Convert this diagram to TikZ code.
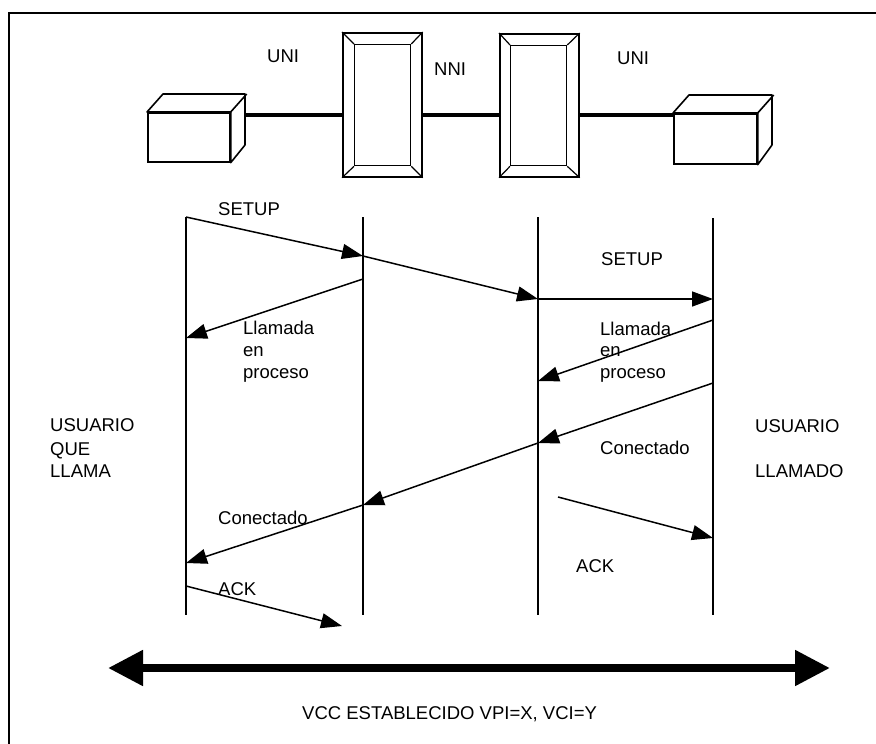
\documentclass[tikz,border=0pt]{standalone}
\usepackage{fontspec}
\setmainfont{Liberation Sans}
\usetikzlibrary{arrows.meta}
\begin{document}
\begin{tikzpicture}[x=1pt,y=-1pt,
  lbl/.style={anchor=base west, inner sep=0pt, font=\fontsize{18.5}{22}\selectfont},
  face/.style={draw, line width=1.6pt, fill=white, line join=round},
  link/.style={line width=4pt},
  life/.style={line width=1.5pt},
  msg/.style={line width=1.5pt, -{Triangle[length=21pt,width=15pt]}},
  box/.style={draw, line width=1.7pt, inner sep=0pt, anchor=north west, fill=white},
  bevel/.style={line width=1.2pt},
]
\useasboundingbox (0,0) rectangle (876,744);
\draw[line width=2pt] (9,744) -- (9,13) -- (876,13);

% network elements
\node[box, minimum width=82pt, minimum height=49pt] (c1) at (147,112) {};
\draw[face] (c1.north west) -- ++(16,-18) -- ++(82,0) -- ++(0,51) -- (c1.south east) -- (c1.north east) -- cycle;
\draw[face] (c1.north east) -- ++(16,-18);
\node[box, minimum width=83pt, minimum height=50pt] (c2) at (673,113) {};
\draw[face] (c2.north west) -- ++(16,-18) -- ++(83,0) -- ++(0,50) -- (c2.south east) -- (c2.north east) -- cycle;
\draw[face] (c2.north east) -- ++(16,-18);

\node[box, minimum width=79pt, minimum height=144pt] (s1) at (342,32) {};
\node[box, line width=1.3pt, minimum width=56pt, minimum height=121pt] (s1i) at (354,44) {};
\draw[bevel] (s1.north west) -- (s1i.north west) (s1.north east) -- (s1i.north east)
  (s1.south west) -- (s1i.south west) (s1.south east) -- (s1i.south east);
\node[box, minimum width=79pt, minimum height=143pt] (s2) at (499,33) {};
\node[box, line width=1.3pt, minimum width=56pt, minimum height=120pt] (s2i) at (510,45) {};
\draw[bevel] (s2.north west) -- (s2i.north west) (s2.north east) -- (s2i.north east)
  (s2.south west) -- (s2i.south west) (s2.south east) -- (s2i.south east);

\coordinate (c1r) at (245,115);
\draw[link] (c1r) -- (s1.west |- c1r);
\draw[link] (s1.east |- c1r) -- (s2.west |- c1r);
\draw[link] (s2.east |- c1r) -- (c2.west |- c1r);

\node[lbl] (uni1) at (267,62) {UNI};
\node[lbl] (nni) at (434,75) {NNI};
\node[lbl] (uni2) at (617,64) {UNI};

% lifelines
\coordinate (L1t) at (186,217); \coordinate (L1b) at (186,615);
\coordinate (L2t) at (363,217); \coordinate (L2b) at (363,615);
\coordinate (L3t) at (538,217); \coordinate (L3b) at (538,615);
\coordinate (L4t) at (713,218); \coordinate (L4b) at (713,615);
\draw[life] (L1t) -- (L1b);
\draw[life] (L2t) -- (L2b);
\draw[life] (L3t) -- (L3b);
\draw[life] (L4t) -- (L4b);

% messages
\coordinate (a1) at (186,217); \coordinate (a2) at (363,256);
\coordinate (a3) at (538,299); \coordinate (a4) at (713,299);
\draw[msg] (a1) -- (a2);
\draw[msg] (a2) -- (a3);
\draw[msg] (a3) -- (a4);

\coordinate (b1) at (363,279); \coordinate (b2) at (186,338);
\coordinate (b3) at (713,320); \coordinate (b4) at (538,381);
\draw[msg] (b1) -- (b2);
\draw[msg] (b3) -- (b4);

\coordinate (d1) at (713,383); \coordinate (d2) at (538,443);
\coordinate (d3) at (363,505); \coordinate (d4) at (186,563);
\draw[msg] (d1) -- (d2);
\draw[msg] (d2) -- (d3);
\draw[msg] (d3) -- (d4);

\coordinate (e1) at (558,497); \coordinate (e2) at (713,538);
\draw[msg] (e1) -- (e2);
\coordinate (f1) at (186,586); \coordinate (f2) at (342,626);
\draw[msg] (f1) -- (f2);

% labels
\node[lbl] (setup1) at (218,215) {SETUP};
\node[lbl] (setup2) at (601,265) {SETUP};
\node[lbl] (ll1a) at (243,334) {Llamada};
\node[lbl] (ll1b) at (243,356) {en};
\node[lbl] (ll1c) at (243,378) {proceso};
\node[lbl] (ll2a) at (600,335) {Llamada};
\node[lbl] (ll2b) at (600,356) {en};
\node[lbl] (ll2c) at (600,378) {proceso};
\node[lbl] (uq1) at (50,431) {USUARIO};
\node[lbl] (uq2) at (50,455) {QUE};
\node[lbl] (uq3) at (50,477) {LLAMA};
\node[lbl] (ur1) at (755,432) {USUARIO};
\node[lbl] (ur2) at (755,477) {LLAMADO};
\node[lbl] (con2) at (600,454) {Conectado};
\node[lbl] (con1) at (218,524) {Conectado};
\node[lbl] (ack1) at (218,595) {ACK};
\node[lbl] (ack2) at (576,572) {ACK};

% VCC
\coordinate (g1) at (108,668); \coordinate (g2) at (830,668);
\draw[line width=8pt, {Triangle[length=35pt,width=34pt]}-{Triangle[length=35pt,width=34pt]}] (g1) -- (g2);
\node[lbl] (vcc) at (302,719) {VCC ESTABLECIDO VPI=X, VCI=Y};
\end{tikzpicture}
\end{document}
